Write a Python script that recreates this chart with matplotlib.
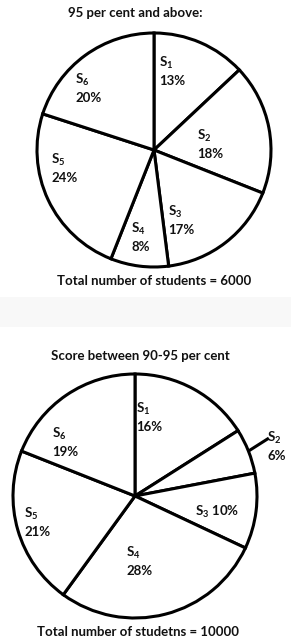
import matplotlib
matplotlib.use("Agg")
import matplotlib.pyplot as plt
import numpy as np
from matplotlib.patches import Rectangle

plt.rcParams["mathtext.fontset"] = "custom"
plt.rcParams["mathtext.rm"] = "Lato:bold"
plt.rcParams["mathtext.bf"] = "Lato:bold"
plt.rcParams["mathtext.default"] = "rm"

# ---- data ----
segments = ["S$_{1}$", "S$_{2}$", "S$_{3}$", "S$_{4}$", "S$_{5}$", "S$_{6}$"]
top_values = [13, 18, 17, 8, 24, 20]
bottom_values = [16, 6, 10, 28, 21, 19]
top_title = "95 per cent and above:"
bottom_title = "Score between 90-95 per cent"
top_footer = "Total number of students = 6000"
bottom_footer = "Total number of studetns = 10000"

W, H = 291, 641
FAM = ["Lato", "DejaVu Sans"]
LW = 2.2
TXT = dict(family=FAM, fontweight="bold", color="#111111", fontsize=9.5)

fig = plt.figure(figsize=(W / 100, H / 100), dpi=100)
fig.patch.set_facecolor("white")

# light separator band between the two panels
bg = fig.add_axes([0, 0, 1, 1])
bg.set_xlim(0, W)
bg.set_ylim(H, 0)
bg.axis("off")
bg.add_patch(Rectangle((0, 297), W, 30, facecolor="#f8f8f8", edgecolor="none"))


def make_pie(values, cx, cy, r, label_pos, outside=None):
    pad = 1.05
    ax = fig.add_axes([(cx - r * pad) / W, 1 - (cy + r * pad) / H,
                       2 * r * pad / W, 2 * r * pad / H])
    wedges, _ = ax.pie(values, startangle=90, counterclock=False,
                       colors=["white"] * len(values),
                       wedgeprops=dict(edgecolor="black", linewidth=LW))
    ax.set_xlim(-pad, pad)
    ax.set_ylim(-pad, pad)
    ax.set_aspect("equal")
    ax.axis("off")
    for i, (name, v) in enumerate(zip(segments, values)):
        px, py, mode = label_pos[i]
        x = (px - cx) / r
        if mode == "single":
            y = (cy - py) / r
            ax.text(x, y, f"{name} {v}%", ha="left", va="center",
                    clip_on=False, **TXT)
        else:
            y1 = (cy - (py - 9)) / r
            y2 = (cy - (py + 9)) / r
            ax.text(x, y1, name, ha="left", va="center", clip_on=False, **TXT)
            ax.text(x, y2, f"{v}%", ha="left", va="center", clip_on=False, **TXT)
        if outside is not None and i == outside:
            w = wedges[i]
            ang = np.deg2rad((w.theta1 + w.theta2) / 2)
            x0, y0 = np.cos(ang), np.sin(ang)
            ax.plot([x0, 1.18 * x0], [y0, 1.18 * y0 + 0.04], color="black",
                    lw=LW, solid_capstyle="butt", clip_on=False)
    return ax


top_labels = [(159, 72, "multi"), (197, 145, "multi"), (168, 221, "multi"),
              (131, 238, "multi"), (51, 169, "multi"), (75, 89, "multi")]
bottom_labels = [(136, 418, "multi"), (267, 447, "multi"), (195, 512, "single"),
                 (126, 562, "multi"), (24, 523, "multi"), (52, 443, "multi")]

make_pie(top_values, 154, 150, 117, top_labels)
make_pie(bottom_values, 135, 496, 122, bottom_labels, outside=1)

fig.text(135 / W, 1 - 13 / H, top_title, ha="center", va="center", **TXT)
fig.text(154 / W, 1 - 281 / H, top_footer, ha="center", va="center", **TXT)
fig.text(140 / W, 1 - 356 / H, bottom_title, ha="center", va="center", **TXT)
fig.text(138 / W, 1 - 632 / H, bottom_footer, ha="center", va="center", **TXT)

fig.savefig("out.png", dpi=100, facecolor="white")
